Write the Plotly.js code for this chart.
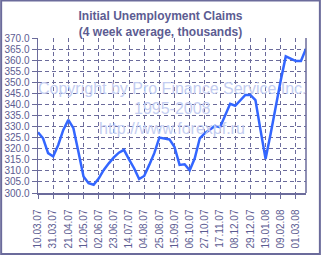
<!DOCTYPE html>
<html><head><meta charset="utf-8">
<script src="https://cdn.plot.ly/plotly-3.0.1.min.js"></script>
<style>html,body{margin:0;padding:0;background:#fff;}#chart{width:321px;height:256px;}</style>
</head><body><div id="chart"></div>
<script>
const dates = ["10.03.07","17.03.07","24.03.07","31.03.07","07.04.07","14.04.07","21.04.07","28.04.07","05.05.07","12.05.07",
"19.05.07","26.05.07","02.06.07","09.06.07","16.06.07","23.06.07","30.06.07","07.07.07","14.07.07","21.07.07",
"28.07.07","04.08.07","11.08.07","18.08.07","25.08.07","01.09.07","08.09.07","15.09.07","22.09.07","29.09.07",
"06.10.07","13.10.07","20.10.07","27.10.07","03.11.07","10.11.07","17.11.07","24.11.07","01.12.07","08.12.07",
"15.12.07","22.12.07","29.12.07","05.01.08","12.01.08","19.01.08","26.01.08","02.02.08","09.02.08","16.02.08",
"23.02.08","01.03.08","08.03.08","15.03.08"];
const claims = [327.4,324.7,318.0,316.5,321.7,328.5,333.0,329.3,318.5,307.5,
304.4,303.7,306.5,310.4,313.4,316.1,318.2,319.5,315.2,311.2,
306.3,307.7,312.7,318.0,325.0,324.7,324.2,320.8,312.7,313.0,
310.2,315.7,324.7,327.0,328.5,330.3,329.7,335.3,340.3,339.4,
342.0,344.3,344.3,342.0,328.5,315.4,326.7,339.5,350.8,361.7,
360.6,359.6,359.6,365.2];
const tickLabels = ["10.03.07","31.03.07","21.04.07","12.05.07","02.06.07","23.06.07","14.07.07","04.08.07","25.08.07",
"15.09.07","06.10.07","27.10.07","17.11.07","08.12.07","29.12.07","19.01.08","09.02.08","01.03.08"];
const titleLines = ["Initial Unemployment Claims","(4 week average, thousands)"];
const watermark = ["Copyright by Pro Finance Service Inc.","1995-2008","http://www.forexpf.ru"];

const axisCol = "#6b6b9b";
const textCol = "#5c5c92";
const wmY = [0.677, 0.548, 0.419];

const layout = {
  width: 321, height: 256,
  margin: {l: 38, r: 15, t: 38, b: 63, pad: 0},
  paper_bgcolor: "#ffffff", plot_bgcolor: "#ffffff",
  showlegend: false,
  font: {family: "Liberation Sans, Arial, sans-serif", size: 10, color: textCol},
  title: {text: "<b>" + titleLines.join("</b><br><b>") + "</b>", x: 0.5, xref: "container", xanchor: "center",
          y: 0.921, yref: "container", yanchor: "middle",
          font: {family: "Liberation Sans, Arial, sans-serif", size: 12, color: textCol}},
  xaxis: {type: "category", range: [0, dates.length - 1], tickmode: "array", tickvals: tickLabels, ticktext: tickLabels,
          tickangle: -90, ticks: "outside", ticklen: 4, tickcolor: axisCol, ticklabelstandoff: 7,
          showline: true, linecolor: axisCol, linewidth: 1.5,
          showgrid: true, gridcolor: axisCol, gridwidth: 1, griddash: "4px,3px", zeroline: false,
          tickfont: {size: 10, color: textCol}},
  yaxis: {range: [300, 370], dtick: 5, tick0: 300, tickformat: ".1f", ticks: "outside", ticklen: 5, tickcolor: axisCol,
          showline: true, linecolor: axisCol, linewidth: 1.5,
          showgrid: true, gridcolor: axisCol, gridwidth: 1, griddash: "4px,3px", zeroline: false,
          tickfont: {size: 10, color: textCol}},
  shapes: [
    {type: "line", xref: "paper", yref: "paper", x0: 1, x1: 1, y0: 0, y1: 1, line: {color: axisCol, width: 1.5}},
    {type: "rect", xref: "paper", yref: "paper", x0: -0.1375, x1: 1.0518, y0: -0.3935, y1: 1.2419,
     line: {color: axisCol, width: 2}, layer: "above"}
  ],
  annotations: watermark.map((t, i) => ({
    text: t, xref: "paper", yref: "paper", x: 0.5, y: wmY[i], xanchor: "center", yanchor: "middle",
    showarrow: false, font: {family: "Liberation Sans, Arial, sans-serif", size: 16, color: "#c3cdf1"}
  }))
};

const trace = {x: dates, y: claims, type: "scatter", mode: "lines",
  line: {color: "#3366ff", width: 2.5}, hoverinfo: "skip"};

Plotly.newPlot("chart", [trace], layout, {displayModeBar: false, staticPlot: true});
</script></body></html>
